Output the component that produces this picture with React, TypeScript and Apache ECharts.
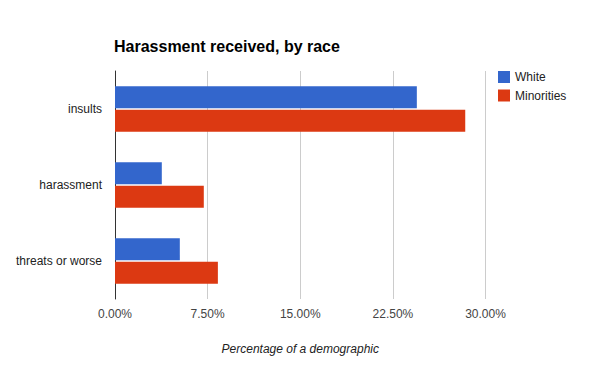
import React, { useEffect, useRef } from "react";
import * as echarts from "echarts";

const categories = ["insults", "harassment", "threats or worse"];
const whiteValues = [24.44, 3.79, 5.25];
const minorityValues = [28.36, 7.19, 8.33];
const seriesNames = ["White", "Minorities"];

export default function App() {
  const ref = useRef<HTMLDivElement>(null);
  useEffect(() => {
    const chart = echarts.init(ref.current!, null, { renderer: "svg" });
    const font = "'Liberation Sans', Arial, sans-serif";
    chart.setOption({
      animation: false,
      textStyle: { fontFamily: font },
      title: {
        text: "Harassment received, by race",
        left: 109,
        top: 33,
        textStyle: { fontSize: 16, fontWeight: "bold", color: "#000", fontFamily: font },
      },
      legend: {
        orient: "vertical",
        left: 493,
        top: 66,
        itemWidth: 12,
        itemHeight: 12,
        itemGap: 6.5,
        icon: "rect",
        textStyle: { fontSize: 12, color: "#222", fontFamily: font },
        data: seriesNames,
      },
      grid: { left: 115, right: 114.5, top: 71, height: 228, containLabel: false },
      xAxis: {
        type: "value",
        min: 0,
        max: 30,
        interval: 7.5,
        axisLine: { show: false },
        axisTick: { show: false },
        splitLine: { lineStyle: { color: "#cccccc", width: 1 } },
        axisLabel: {
          formatter: (v: number) => v.toFixed(2) + "%",
          fontSize: 12,
          color: "#444",
          margin: 9,
          fontFamily: font,
        },
        name: "Percentage of a demographic",
        nameLocation: "middle",
        nameGap: 44,
        nameTextStyle: { fontStyle: "italic", fontSize: 12, color: "#222", fontFamily: font },
      },
      yAxis: {
        type: "category",
        data: categories,
        inverse: true,
        axisLine: { show: true, lineStyle: { color: "#333", width: 1 } },
        axisTick: { show: false },
        axisLabel: { fontSize: 12, color: "#222", margin: 13, fontFamily: font },
      },
      series: [
        {
          name: seriesNames[0],
          type: "bar",
          data: whiteValues,
          barWidth: 22,
          barGap: "6%",
          itemStyle: { color: "#3366cc" },
        },
        {
          name: seriesNames[1],
          type: "bar",
          data: minorityValues,
          barWidth: 22,
          barGap: "6%",
          itemStyle: { color: "#dc3912" },
        },
      ],
    });
    return () => chart.dispose();
  }, []);
  return <div ref={ref} style={{ width: 600, height: 371, position: "absolute", left: 0, top: 0 }} />;
}
